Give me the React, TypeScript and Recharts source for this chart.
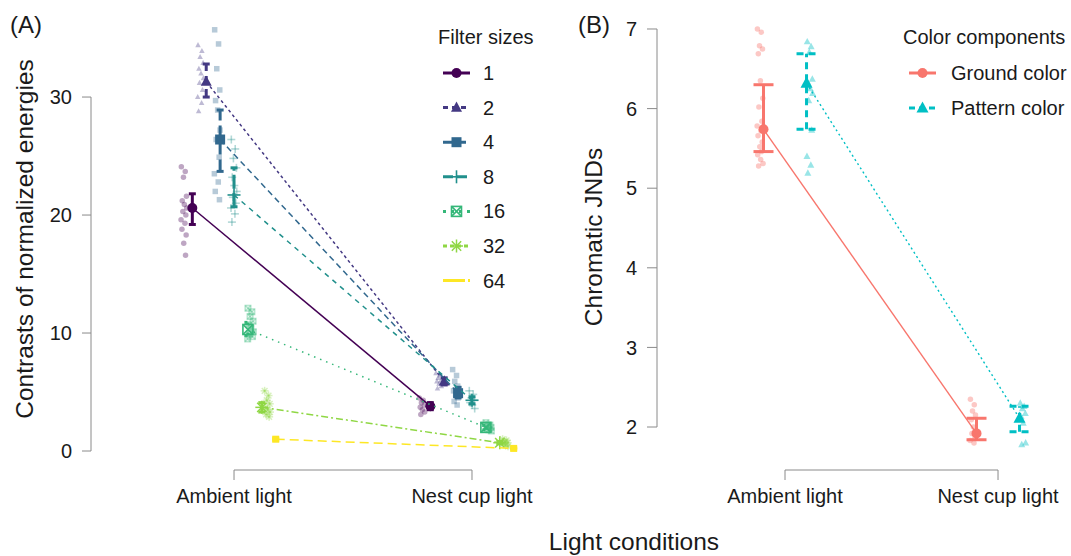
import { ComposedChart, Scatter, XAxis, YAxis, ErrorBar, ReferenceLine } from 'recharts'

const FONT = '"Liberation Sans", Arial, sans-serif'
const INK = '#1a1a1a'
const AXIS_GREY = '#8a8a8a'

const CONDITIONS = ['Ambient light', 'Nest cup light']

// (A) contrasts of normalized energies, one entry per filter size
const FILTER_SIZES = ['1', '2', '4', '8', '16', '32', '64']
const ENERGY_MEAN_AMBIENT = [20.6, 31.3, 26.4, 21.7, 10.3, 3.7, 1.0]
const ENERGY_LOW_AMBIENT = [19.2, 30.0, 23.7, 20.7, 9.8, 3.3, 0.92]
const ENERGY_HIGH_AMBIENT = [21.8, 32.8, 28.9, 24.0, 10.9, 4.1, 1.08]
const ENERGY_MEAN_NEST = [3.8, 5.9, 4.9, 4.3, 2.0, 0.7, 0.22]
const ENERGY_LOW_NEST = [3.5, 5.6, 4.5, 4.0, 1.8, 0.6, 0.17]
const ENERGY_HIGH_NEST = [4.1, 6.2, 5.4, 4.6, 2.2, 0.8, 0.27]

// raw points; the 64 points sit under their mean marker and are not drawn separately
const ENERGY_POINTS_AMBIENT = [
  [24.1, 23.7, 23.2, 21.6, 21.2, 20.9, 20.6, 20.3, 20.0, 19.6, 19.3, 18.8, 18.3, 17.6, 16.6],
  [34.4, 33.9, 33.4, 32.9, 32.4, 32.0, 31.6, 31.2, 30.6, 30.0, 29.5, 28.8],
  [35.7, 34.5, 32.4, 30.6, 29.7, 28.9, 27.2, 26.4, 24.9, 23.5, 22.8, 22.0, 21.3],
  [26.4, 25.6, 24.8, 24.0, 23.2, 22.5, 22.0, 21.5, 21.0, 20.6, 20.1, 19.4],
  [12.1, 11.8, 11.4, 11.0, 10.7, 10.4, 10.1, 9.9, 9.7, 9.5],
  [5.1, 4.7, 4.3, 4.0, 3.7, 3.5, 3.3, 3.1, 2.9],
  []
]
const ENERGY_POINTS_NEST = [
  [4.5, 4.3, 4.1, 3.9, 3.7, 3.5, 3.3, 3.1],
  [6.6, 6.4, 6.2, 6.0, 5.9, 5.7, 5.5, 5.3],
  [6.9, 6.4, 5.9, 5.5, 5.1, 4.8, 4.5, 4.2, 3.9],
  [5.1, 4.8, 4.5, 4.3, 4.1, 3.9, 3.6],
  [2.4, 2.2, 2.1, 2.0, 1.9, 1.8, 1.7],
  [1.0, 0.9, 0.8, 0.7, 0.6, 0.5, 0.4],
  []
]

// (B) chromatic JNDs
const COLOR_COMPONENTS = ['Ground color', 'Pattern color']
const JND_MEAN_AMBIENT = [5.74, 6.32]
const JND_LOW_AMBIENT = [5.46, 5.74]
const JND_HIGH_AMBIENT = [6.3, 6.69]
const JND_MEAN_NEST = [1.92, 2.11]
const JND_LOW_NEST = [1.84, 1.94]
const JND_HIGH_NEST = [2.11, 2.26]
const JND_POINTS_AMBIENT = [
  [7.0, 6.96, 6.79, 6.75, 6.69, 6.35, 6.13, 6.02, 5.84, 5.78, 5.72, 5.66, 5.58, 5.52, 5.46, 5.42, 5.36, 5.31, 5.28],
  [6.84, 6.78, 6.71, 6.37, 6.32, 6.25, 6.19, 6.1, 5.73, 5.4, 5.29, 5.19]
]
const JND_POINTS_NEST = [
  [2.35, 2.28, 2.2, 2.15, 2.09, 2.0, 1.95, 1.92, 1.86, 1.83, 1.8],
  [2.3, 2.26, 2.23, 2.17, 2.13, 2.05, 1.8, 1.78]
]

// fixed jitter sequence, cycled through for the raw points
const JITTER = [-0.9, 0.4, -0.2, 0.8, -0.6, 0.1, 0.9, -0.4, 0.6, -1, 0.3, -0.7, 0.7, -0.1, 0.5, -0.8, 0.2, 1, -0.5]

type Kind = 'circle' | 'triangle' | 'square' | 'plus' | 'boxx' | 'star'

const FILTER_STYLES: {
  color: string
  kind: Kind
  size: number
  dash?: string
  errDash?: string
  legendDash?: string
  legendMarker: boolean
}[] = [
  { color: '#440154', kind: 'circle', size: 10, legendMarker: true },
  { color: '#443983', kind: 'triangle', size: 11, dash: '3 3', errDash: '8 5', legendDash: '5 4', legendMarker: true },
  { color: '#31688E', kind: 'square', size: 10, dash: '6 4', errDash: '12 5', legendDash: '9 5', legendMarker: true },
  { color: '#21908C', kind: 'plus', size: 13, dash: '5 5', errDash: '14 4', legendDash: '10 4', legendMarker: true },
  { color: '#35B779', kind: 'boxx', size: 10, dash: '1.5 5', errDash: '3 8', legendDash: '3 5', legendMarker: true },
  { color: '#8FD744', kind: 'star', size: 13, dash: '7 3 2 3', errDash: '10 5 3 5', legendDash: '4 3', legendMarker: true },
  { color: '#FDE725', kind: 'square', size: 7, dash: '9 5', errDash: '14 6', legendDash: '22 3 2 3', legendMarker: false }
]

const COMPONENT_STYLES: { color: string; kind: Kind; size: number; dash?: string; errDash?: string }[] = [
  { color: '#F8766D', kind: 'circle', size: 10 },
  { color: '#00BFC4', kind: 'triangle', size: 12, dash: '2 3', errDash: '7 5' }
]

function Marker({ kind, cx, cy, s, color, opacity = 1 }: { kind: Kind; cx: number; cy: number; s: number; color: string; opacity?: number }) {
  const h = s / 2
  if (cx == null || cy == null) return null
  switch (kind) {
    case 'circle':
      return <circle cx={cx} cy={cy} r={h} fill={color} fillOpacity={opacity} />
    case 'triangle':
      return (
        <polygon
          points={`${cx},${cy - h * 1.1} ${cx - h},${cy + h * 0.75} ${cx + h},${cy + h * 0.75}`}
          fill={color}
          fillOpacity={opacity}
        />
      )
    case 'square':
      return <rect x={cx - h} y={cy - h} width={s} height={s} fill={color} fillOpacity={opacity} />
    case 'plus':
      return (
        <g stroke={color} strokeOpacity={opacity} strokeWidth={1.6}>
          <line x1={cx - h} y1={cy} x2={cx + h} y2={cy} />
          <line x1={cx} y1={cy - h} x2={cx} y2={cy + h} />
        </g>
      )
    case 'boxx':
      return (
        <g stroke={color} strokeOpacity={opacity} strokeWidth={1.6} fill='none'>
          <rect x={cx - h} y={cy - h} width={s} height={s} />
          <line x1={cx - h} y1={cy - h} x2={cx + h} y2={cy + h} />
          <line x1={cx - h} y1={cy + h} x2={cx + h} y2={cy - h} />
        </g>
      )
    case 'star': {
      const d = h * 0.72
      return (
        <g stroke={color} strokeOpacity={opacity} strokeWidth={1.5}>
          <line x1={cx - h} y1={cy} x2={cx + h} y2={cy} />
          <line x1={cx} y1={cy - h} x2={cx} y2={cy + h} />
          <line x1={cx - d} y1={cy - d} x2={cx + d} y2={cy + d} />
          <line x1={cx - d} y1={cy + d} x2={cx + d} y2={cy - d} />
        </g>
      )
    }
  }
  return null
}

function meanRows(
  meanA: number[], lowA: number[], highA: number[],
  meanN: number[], lowN: number[], highN: number[],
  i: number, offset: number
) {
  return [
    { x: 1 + offset, y: meanA[i], err: [meanA[i] - lowA[i], highA[i] - meanA[i]] },
    { x: 2 + offset, y: meanN[i], err: [meanN[i] - lowN[i], highN[i] - meanN[i]] }
  ]
}

function pointRows(ptsA: number[], ptsN: number[], offset: number, spread: number) {
  return [ptsA, ptsN].flatMap((vals, c) =>
    vals.map((v, k) => ({ x: c + 1 + offset + JITTER[k % JITTER.length] * spread, y: v }))
  )
}

const tickStyle = { fontSize: 20, fill: INK, fontFamily: FONT }

function PanelA() {
  const n = FILTER_SIZES.length
  const xDomain: [number, number] = [0.399, 2.29]
  const yDomain: [number, number] = [-1.61, 36.53]
  return (
    <ComposedChart width={560} height={556} margin={{ top: 20, right: 19, bottom: 0, left: 0 }}>
      <XAxis
        type='number'
        dataKey='x'
        domain={xDomain}
        allowDataOverflow
        ticks={[1, 2]}
        interval={0}
        tickFormatter={(v: number) => CONDITIONS[v - 1]}
        axisLine={false}
        tickLine={{ stroke: AXIS_GREY }}
        tickSize={10}
        tickMargin={9}
        height={86}
        tick={tickStyle}
      />
      <YAxis
        type='number'
        dataKey='y'
        domain={yDomain}
        allowDataOverflow
        ticks={[0, 10, 20, 30]}
        interval={0}
        axisLine={false}
        tickLine={{ stroke: AXIS_GREY }}
        tickSize={9}
        tickMargin={10}
        width={91}
        tick={tickStyle}
      />
      <ReferenceLine segment={[{ x: xDomain[0], y: 0 }, { x: xDomain[0], y: 30 }]} stroke={AXIS_GREY} ifOverflow='visible' />
      <ReferenceLine segment={[{ x: 1, y: yDomain[0] }, { x: 2, y: yDomain[0] }]} stroke={AXIS_GREY} ifOverflow='visible' />
      {FILTER_STYLES.map((st, i) => (
        <Scatter
          key={`p${i}`}
          data={pointRows(ENERGY_POINTS_AMBIENT[i], ENERGY_POINTS_NEST[i], (i - (n - 1) / 2) * 0.07, 0.0126)}
          dataKey='y'
          isAnimationActive={false}
          shape={(p: any) => (
            <Marker kind={st.kind} cx={p.cx} cy={p.cy} s={st.kind === 'plus' || st.kind === 'star' ? 8 : 5.5} color={st.color} opacity={0.35} />
          )}
        />
      ))}
      {FILTER_STYLES.map((st, i) => (
        <Scatter
          key={`m${i}`}
          name={FILTER_SIZES[i]}
          data={meanRows(
            ENERGY_MEAN_AMBIENT, ENERGY_LOW_AMBIENT, ENERGY_HIGH_AMBIENT,
            ENERGY_MEAN_NEST, ENERGY_LOW_NEST, ENERGY_HIGH_NEST,
            i, (i - (n - 1) / 2) * 0.0584
          )}
          dataKey='y'
          isAnimationActive={false}
          line={{ stroke: st.color, strokeWidth: 1.5, strokeDasharray: st.dash }}
          lineType='joint'
          shape={(p: any) => <Marker kind={st.kind} cx={p.cx} cy={p.cy} s={st.size} color={st.color} />}
        >
          <ErrorBar
            dataKey='err'
            direction='y'
            width={3.5}
            stroke={st.color}
            strokeWidth={3}
            strokeDasharray={st.errDash}
            isAnimationActive={false}
          />
        </Scatter>
      ))}
    </ComposedChart>
  )
}

function PanelB() {
  const xDomain: [number, number] = [0.399, 2.291]
  const yDomain: [number, number] = [1.46, 7.113]
  return (
    <ComposedChart width={511} height={556} margin={{ top: 20, right: 11, bottom: 0, left: 0 }}>
      <XAxis
        type='number'
        dataKey='x'
        domain={xDomain}
        allowDataOverflow
        ticks={[1, 2]}
        interval={0}
        tickFormatter={(v: number) => CONDITIONS[v - 1]}
        axisLine={false}
        tickLine={{ stroke: AXIS_GREY }}
        tickSize={10}
        tickMargin={9}
        height={86}
        tick={tickStyle}
      />
      <YAxis
        type='number'
        dataKey='y'
        domain={yDomain}
        allowDataOverflow
        ticks={[2, 3, 4, 5, 6, 7]}
        interval={0}
        axisLine={false}
        tickLine={{ stroke: AXIS_GREY }}
        tickSize={10}
        tickMargin={10}
        width={97}
        tick={tickStyle}
      />
      <ReferenceLine segment={[{ x: xDomain[0], y: 2 }, { x: xDomain[0], y: 7 }]} stroke={AXIS_GREY} ifOverflow='visible' />
      <ReferenceLine segment={[{ x: 1, y: yDomain[0] }, { x: 2, y: yDomain[0] }]} stroke={AXIS_GREY} ifOverflow='visible' />
      {COMPONENT_STYLES.map((st, i) => (
        <Scatter
          key={`p${i}`}
          data={pointRows(JND_POINTS_AMBIENT[i], JND_POINTS_NEST[i], (i - 0.5) * 0.234, 0.014)}
          dataKey='y'
          isAnimationActive={false}
          shape={(p: any) => (
            <Marker kind={st.kind} cx={p.cx} cy={p.cy} s={st.kind === 'triangle' ? 7 : 5.5} color={st.color} opacity={0.4} />
          )}
        />
      ))}
      {COMPONENT_STYLES.map((st, i) => (
        <Scatter
          key={`m${i}`}
          name={COLOR_COMPONENTS[i]}
          data={meanRows(JND_MEAN_AMBIENT, JND_LOW_AMBIENT, JND_HIGH_AMBIENT, JND_MEAN_NEST, JND_LOW_NEST, JND_HIGH_NEST, i, (i - 0.5) * 0.202)}
          dataKey='y'
          isAnimationActive={false}
          line={{ stroke: st.color, strokeWidth: 1.4, strokeDasharray: st.dash }}
          lineType='joint'
          shape={(p: any) => <Marker kind={st.kind} cx={p.cx} cy={p.cy} s={st.size} color={st.color} />}
        >
          <ErrorBar
            dataKey='err'
            direction='y'
            width={10}
            stroke={st.color}
            strokeWidth={3}
            strokeDasharray={st.errDash}
            isAnimationActive={false}
          />
        </Scatter>
      ))}
    </ComposedChart>
  )
}

function Overlay() {
  const txt = { fontFamily: FONT, fill: INK }
  return (
    <svg width={1071} height={556} style={{ position: 'absolute', left: 0, top: 0, pointerEvents: 'none' }}>
      <text x={10} y={33} fontSize={24} {...txt}>(A)</text>
      <text x={578} y={33} fontSize={24} {...txt}>(B)</text>
      <text x={24} y={239} fontSize={24.5} textAnchor='middle' dominantBaseline='central' transform='rotate(-90 24 239)' {...txt}>
        Contrasts of normalized energies
      </text>
      <text x={593} y={237} fontSize={24.5} textAnchor='middle' dominantBaseline='central' transform='rotate(-90 593 237)' {...txt}>
        Chromatic JNDs
      </text>
      <text x={634} y={541} fontSize={24.5} textAnchor='middle' dominantBaseline='central' {...txt}>
        Light conditions
      </text>

      <text x={438} y={37} fontSize={20} dominantBaseline='central' {...txt}>Filter sizes</text>
      {FILTER_SIZES.map((label, i) => {
        const st = FILTER_STYLES[i]
        const y = 73 + i * 34.6
        return (
          <g key={label}>
            <line x1={443} y1={y} x2={470} y2={y} stroke={st.color} strokeWidth={3} strokeDasharray={st.legendDash} />
            {st.legendMarker && <Marker kind={st.kind} cx={456.5} cy={y} s={st.size} color={st.color} />}
            <text x={483} y={y} fontSize={20} dominantBaseline='central' {...txt}>{label}</text>
          </g>
        )
      })}

      <text x={903} y={37} fontSize={20} dominantBaseline='central' {...txt}>Color components</text>
      {COLOR_COMPONENTS.map((label, i) => {
        const st = COMPONENT_STYLES[i]
        const y = 73 + i * 35
        return (
          <g key={label}>
            <line x1={909} y1={y} x2={936} y2={y} stroke={st.color} strokeWidth={3} strokeDasharray={st.dash ? '6 4' : undefined} />
            <Marker kind={st.kind} cx={922.5} cy={y} s={st.size} color={st.color} />
            <text x={951} y={y} fontSize={20} dominantBaseline='central' {...txt}>{label}</text>
          </g>
        )
      })}
    </svg>
  )
}

export default function App() {
  return (
    <div style={{ position: 'absolute', left: 0, top: 0, width: 1071, height: 556, background: '#fff' }}>
      <div style={{ position: 'absolute', left: 0, top: 0 }}>
        <PanelA />
      </div>
      <div style={{ position: 'absolute', left: 560, top: 0 }}>
        <PanelB />
      </div>
      <Overlay />
    </div>
  )
}
